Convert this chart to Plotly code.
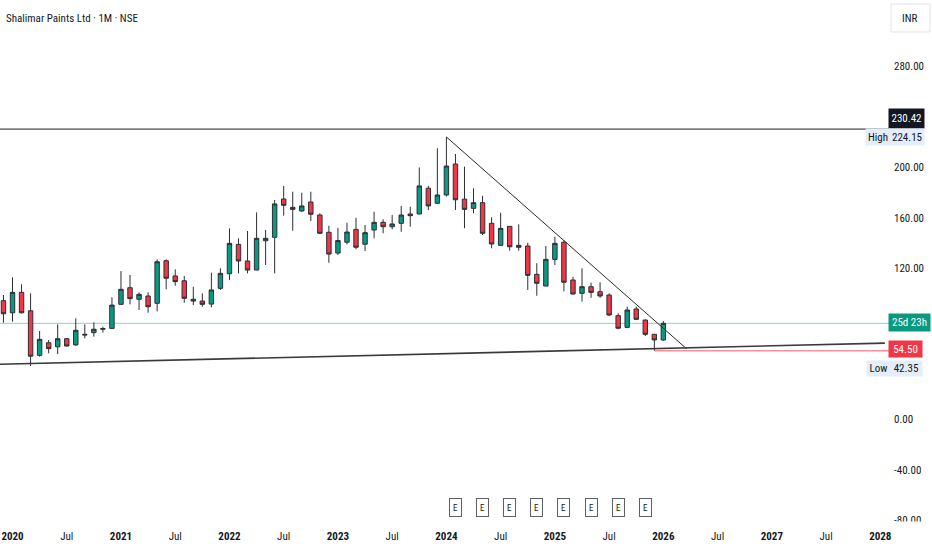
import plotly.graph_objects as go

# ---------------- data ----------------
dates = ["2019-12",
         "2020-01", "2020-02", "2020-03", "2020-04", "2020-05", "2020-06",
         "2020-07", "2020-08", "2020-09", "2020-10", "2020-11", "2020-12",
         "2021-01", "2021-02", "2021-03", "2021-04", "2021-05", "2021-06",
         "2021-07", "2021-08", "2021-09", "2021-10", "2021-11", "2021-12",
         "2022-01", "2022-02", "2022-03", "2022-04", "2022-05", "2022-06",
         "2022-07", "2022-08", "2022-09", "2022-10", "2022-11", "2022-12",
         "2023-01", "2023-02", "2023-03", "2023-04", "2023-05", "2023-06",
         "2023-07", "2023-08", "2023-09", "2023-10", "2023-11", "2023-12",
         "2024-01", "2024-02", "2024-03", "2024-04", "2024-05", "2024-06",
         "2024-07", "2024-08", "2024-09", "2024-10", "2024-11", "2024-12",
         "2025-01", "2025-02", "2025-03", "2025-04", "2025-05", "2025-06",
         "2025-07", "2025-08", "2025-09", "2025-10", "2025-11", "2025-12",
         "2026-01"]

opens = [94.2,
         84.6, 100.8, 86.2, 50.8, 60.8, 57.6,
         64.0, 59.1, 67.5, 68.8, 71.5, 72.2,
         91.3, 104.5, 95.3, 97.9, 92.1, 125.9,
         113.8, 110.0, 95.3, 93.9, 91.5, 104.0,
         115.6, 138.9, 125.7, 118.5, 141.8, 144.5,
         174.9, 168.3, 165.4, 172.5, 162.2, 148.5,
         132.0, 140.6, 150.8, 139.0, 150.3, 156.4,
         152.9, 155.6, 163.0, 163.0, 183.5, 171.5,
         178.1, 202.7, 174.8, 167.5, 172.0, 155.6,
         138.1, 153.2, 138.1, 137.6, 115.1, 105.8,
         127.0, 140.6, 110.6, 100.0, 105.3, 101.3,
         98.7, 82.3, 73.0, 87.6, 78.8, 67.5,
         63.0]

highs = [98.7,
         112.7, 107.2, 100.0, 70.1, 63.0, 75.4,
         64.5, 80.2, 75.4, 77.0, 73.5, 96.9,
         117.7, 114.6, 100.8, 100.8, 127.0, 127.0,
         119.1, 113.8, 105.3, 100.0, 116.4, 119.9,
         151.6, 143.7, 149.5, 164.3, 150.3, 174.1,
         185.2, 180.7, 179.9, 180.7, 163.6, 153.7,
         152.0, 156.1, 160.0, 154.3, 164.8, 158.8,
         162.2, 169.4, 168.8, 200.0, 185.3, 215.2,
         224.15, 210.7, 200.6, 183.4, 177.5, 160.4,
         164.0, 153.2, 154.8, 140.2, 123.9, 137.6,
         145.0, 142.0, 113.2, 119.9, 108.5, 108.8,
         100.0, 84.2, 89.4, 89.4, 79.4, 67.5,
         78.0]

lows = [76.7,
        77.5, 84.0, 42.35, 49.7, 52.4, 51.8,
        57.8, 58.4, 64.3, 65.6, 68.8, 72.0,
        90.7, 91.3, 86.8, 84.6, 85.7, 103.2,
        106.1, 92.6, 90.7, 89.4, 88.9, 102.7,
        110.6, 115.9, 115.9, 118.5, 122.5, 115.9,
        161.7, 149.7, 164.8, 157.4, 147.0, 124.3,
        130.4, 138.8, 135.0, 133.6, 143.7, 147.7,
        150.8, 148.9, 152.9, 163.0, 166.2, 171.0,
        177.0, 166.2, 151.7, 163.6, 146.3, 135.8,
        138.1, 133.9, 133.9, 102.7, 98.1, 105.8,
        122.5, 101.6, 99.0, 93.4, 96.5, 96.5,
        82.0, 71.5, 72.3, 78.8, 66.1, 54.5,
        62.4]

closes = [83.8,
          100.8, 84.6, 50.1, 63.5, 56.1, 64.0,
          58.2, 70.7, 67.0, 71.5, 72.0, 90.7,
          103.2, 95.8, 99.2, 89.4, 125.1, 112.0,
          109.3, 96.1, 93.9, 91.3, 102.7, 115.9,
          139.7, 125.7, 118.5, 143.7, 143.7, 171.0,
          169.9, 166.7, 169.4, 162.8, 147.7, 131.2,
          141.9, 148.7, 136.6, 148.2, 156.4, 152.9,
          155.1, 162.2, 161.7, 185.3, 169.4, 178.1,
          201.1, 174.3, 166.7, 172.0, 147.7, 139.2,
          151.6, 137.0, 136.6, 114.3, 108.0, 127.0,
          139.7, 108.8, 99.5, 105.3, 100.8, 97.9,
          82.8, 72.3, 86.8, 79.4, 67.5, 63.0,
          76.2]

# time-axis ticks (month index from Jan 2020)
tick_months = [0, 6, 12, 18, 24, 30, 36, 42, 48, 54, 60, 66, 72, 78, 84, 90, 96]
tick_labels = ["2020", "Jul", "2021", "Jul", "2022", "Jul", "2023", "Jul", "2024",
               "Jul", "2025", "Jul", "2026", "Jul", "2027", "Jul", "2028"]

# price-axis ticks that are visible (240, 80, 40 sit under the price labels)
price_ticks = [-80, -40, 0, 120, 160, 200, 280]

# earnings markers (month index)
earnings_months = [49, 52, 55, 58, 61, 64, 67, 70]

# drawings
resistance_level = 230.42
down_trend_x = [48, 74.6]
down_trend_y = [224.15, 55.8]
up_trend_x = [-1.38, 96.5]
up_trend_y = [43.7, 60.5]
support_ray_start = 71
support_level = 54.50
range_high = 224.15
range_low = 42.35
countdown_text = "25d 23h"

# ---------------- layout constants ----------------
FIG_W, FIG_H = 932, 550
PLOT_W, PLOT_H = 889, 524
X_RANGE = [-1.383, 96.96]
Y_RANGE = [-83.1, 332.9]
GREEN = "#089981"
RED = "#f23645"
TEXT = "#131722"
FONT = "Liberation Sans Narrow, Roboto Condensed, Arial Narrow, sans-serif"


def month_index(d):
    y, m = d.split("-")
    return (int(y) - 2020) * 12 + int(m) - 1


xs = [month_index(d) for d in dates]


def px_x(px):
    return px / PLOT_W


def px_y(py):
    return 1 - py / PLOT_H


fig = go.Figure()
fig.add_trace(go.Candlestick(
    x=xs, open=opens, high=highs, low=lows, close=closes,
    increasing=dict(fillcolor=GREEN, line=dict(color="#2b2f36", width=1)),
    decreasing=dict(fillcolor=RED, line=dict(color="#2b2f36", width=1)),
    whiskerwidth=0, showlegend=False, hoverinfo="skip",
))

shapes = []
# current price line
shapes.append(dict(type="line", xref="x", yref="y", x0=X_RANGE[0], x1=X_RANGE[1],
                   y0=closes[-1], y1=closes[-1],
                   line=dict(color="rgba(8,153,129,0.45)", width=1), layer="below"))
# resistance horizontal
shapes.append(dict(type="line", xref="x", yref="y", x0=X_RANGE[0], x1=X_RANGE[1],
                   y0=resistance_level, y1=resistance_level,
                   line=dict(color="#1e1e1e", width=1), layer="above"))
# descending trendline
shapes.append(dict(type="line", xref="x", yref="y", x0=down_trend_x[0], x1=down_trend_x[1],
                   y0=down_trend_y[0], y1=down_trend_y[1],
                   line=dict(color="#2a2a2a", width=1), layer="above"))
# ascending trendline
shapes.append(dict(type="line", xref="x", yref="y", x0=up_trend_x[0], x1=up_trend_x[1],
                   y0=up_trend_y[0], y1=up_trend_y[1],
                   line=dict(color="#3a3a3a", width=1.6), layer="above"))
# support ray
shapes.append(dict(type="line", xref="x", yref="y", x0=support_ray_start, x1=X_RANGE[1],
                   y0=support_level, y1=support_level,
                   line=dict(color="rgba(242,54,69,0.55)", width=1.6), layer="above"))
# clip the bottom of the price scale (lowest label is cut by the time axis)
shapes.append(dict(type="rect", xref="paper", yref="paper", x0=1.0, x1=FIG_W / PLOT_W,
                   y0=px_y(529), y1=px_y(521.5), fillcolor="white", line=dict(width=0),
                   layer="above"))
# INR box
shapes.append(dict(type="rect", xref="paper", yref="paper", x0=px_x(891), x1=px_x(930),
                   y0=px_y(32), y1=px_y(4), fillcolor="white",
                   line=dict(color="#e0e3eb", width=1), layer="above"))

annotations = []
# title
annotations.append(dict(xref="paper", yref="paper", x=px_x(4), y=px_y(18),
                        xanchor="left", yanchor="middle", showarrow=False,
                        text="Shalimar Paints Ltd · 1M · NSE",
                        font=dict(family=FONT, size=11, color=TEXT)))
annotations.append(dict(xref="paper", yref="paper", x=px_x(910), y=px_y(18),
                        xanchor="center", yanchor="middle", showarrow=False,
                        text="INR", font=dict(family=FONT, size=11, color=TEXT)))


def box_label(text, x0px, width, yval, yshift, bg, fg, height=18):
    annotations.append(dict(xref="paper", yref="y", x=px_x(x0px), y=yval,
                            xanchor="left", yanchor="middle", yshift=yshift,
                            showarrow=False, text=text, width=width, height=height,
                            align="center", bgcolor=bg, borderpad=0,
                            font=dict(family=FONT, size=11, color=fg)))


box_label(f"{resistance_level:.2f}", 888, 35, resistance_level, 11, "#131722", "white", 19)
box_label("High", 865, 24, range_high, 0, "#e3edfb", TEXT, 16)
box_label(f"{range_high:.2f}", 889, 34, range_high, 0, "#e3edfb", TEXT, 16)
box_label(countdown_text, 888, 41, closes[-1], 1, GREEN, "white", 17)
box_label(f"{support_level:.2f}", 888, 33, support_level, 2, RED, "white", 16)
box_label("Low", 866, 23, range_low, -3, "#e3edfb", TEXT, 15)
box_label(f"{range_low:.2f}", 889, 32, range_low, -3, "#e3edfb", TEXT, 15)

# earnings markers
for m in earnings_months:
    annotations.append(dict(xref="x", yref="paper", x=m, y=px_y(507),
                            xanchor="center", yanchor="middle", showarrow=False,
                            text="E", width=9, height=15, borderpad=1,
                            bgcolor="white", bordercolor="#5d606b", borderwidth=1,
                            font=dict(family=FONT, size=9, color=TEXT)))

tick_text = [f"<b>{t}</b>" if t != "Jul" else t for t in tick_labels]

fig.update_layout(
    width=FIG_W, height=FIG_H,
    margin=dict(l=0, r=FIG_W - PLOT_W, t=0, b=FIG_H - PLOT_H),
    paper_bgcolor="white", plot_bgcolor="white",
    font=dict(family=FONT, size=11, color=TEXT),
    shapes=shapes, annotations=annotations,
    showlegend=False,
    xaxis=dict(range=X_RANGE, tickvals=tick_months, ticktext=tick_text,
               showgrid=False, zeroline=False, showline=False, ticks="",
               ticklabelstandoff=4,
               rangeslider=dict(visible=False), fixedrange=True,
               tickfont=dict(family=FONT, size=11, color=TEXT)),
    yaxis=dict(range=Y_RANGE, side="right", tickvals=price_ticks,
               ticktext=[f"{v:.2f}" for v in price_ticks],
               showgrid=False, zeroline=False, showline=False, ticks="",
               ticklabelstandoff=4, fixedrange=True,
               tickfont=dict(family=FONT, size=11, color=TEXT)),
)

fig.write_html("out.html",
               config={"displayModeBar": False},
               post_script="document.body.style.margin='0';"
                           "document.body.style.overflow='hidden';")
